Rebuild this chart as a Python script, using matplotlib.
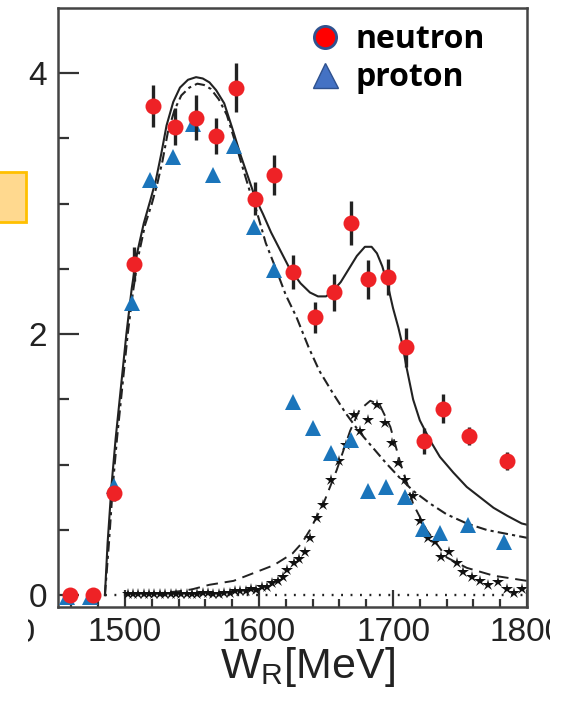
import numpy as np
import matplotlib
matplotlib.use("Agg")
import matplotlib.pyplot as plt
from matplotlib.lines import Line2D
from matplotlib.patches import Rectangle
from matplotlib.transforms import Bbox

plt.rcParams["font.family"] = ["Liberation Sans", "DejaVu Sans"]

# neutron data (red circles) with error bars
neutron_w = [1459, 1476, 1492, 1507, 1521, 1537, 1553, 1568, 1583, 1597, 1611,
             1625, 1642, 1656, 1669, 1681, 1696, 1710, 1723, 1737, 1757, 1785]
neutron_val = [0.0, 0.0, 0.78, 2.54, 3.75, 3.59, 3.66, 3.52, 3.89, 3.04, 3.22,
               2.48, 2.13, 2.32, 2.85, 2.42, 2.44, 1.90, 1.18, 1.43, 1.22, 1.03]
neutron_err = [0.0, 0.0, 0.06, 0.13, 0.16, 0.14, 0.17, 0.14, 0.19, 0.13, 0.15,
               0.13, 0.12, 0.14, 0.17, 0.15, 0.14, 0.15, 0.10, 0.11, 0.07, 0.07]

# proton data (blue triangles)
proton_w = [1457, 1474, 1492, 1505, 1519, 1536, 1551, 1566, 1581, 1596, 1611,
            1625, 1640, 1654, 1669, 1681, 1695, 1709, 1722, 1735, 1756, 1783]
proton_val = [-0.01, -0.01, 0.84, 2.24, 3.18, 3.36, 3.61, 3.22, 3.44, 2.82, 2.49,
              1.48, 1.28, 1.09, 1.19, 0.80, 0.83, 0.75, 0.51, 0.48, 0.54, 0.41]

# full model (solid)
full_w = [1485, 1487, 1490, 1493, 1497, 1501, 1505, 1509, 1514, 1519, 1523,
          1527, 1531, 1536, 1541, 1547, 1553, 1558, 1563, 1568, 1574, 1580,
          1586, 1592, 1597, 1603, 1609, 1616, 1623, 1631, 1638, 1644, 1650,
          1655, 1661, 1667, 1673, 1679, 1684, 1688, 1692, 1696, 1700, 1704,
          1707, 1710, 1715, 1720, 1728, 1735, 1745, 1755, 1765, 1775, 1785,
          1796, 1800]
full_val = [0.0, 0.4, 0.85, 1.2, 1.6, 2.0, 2.35, 2.62, 2.85, 3.03, 3.18,
            3.38, 3.6, 3.78, 3.89, 3.95, 3.97, 3.96, 3.93, 3.87, 3.77, 3.58,
            3.38, 3.2, 3.05, 2.92, 2.78, 2.64, 2.5, 2.39, 2.32, 2.29, 2.29,
            2.33, 2.4, 2.5, 2.6, 2.67, 2.67, 2.62, 2.52, 2.38, 2.2, 2.05,
            1.92, 1.75, 1.5, 1.34, 1.18, 1.06, 0.94, 0.83, 0.75, 0.67, 0.61,
            0.55, 0.54]

# background (dash-dot)
bg_w = [1485, 1488, 1491, 1494, 1498, 1502, 1506, 1510, 1515, 1520, 1524,
        1528, 1532, 1537, 1542, 1548, 1554, 1559, 1564, 1570, 1576, 1582,
        1588, 1593, 1598, 1605, 1613, 1620, 1628, 1637, 1645, 1655, 1665,
        1675, 1685, 1695, 1705, 1715, 1728, 1740, 1755, 1770, 1785, 1800]
bg_val = [0.0, 0.4, 0.85, 1.2, 1.6, 2.0, 2.33, 2.6, 2.84, 3.0, 3.15,
          3.33, 3.55, 3.72, 3.83, 3.89, 3.92, 3.91, 3.88, 3.8, 3.68, 3.48,
          3.27, 3.1, 2.95, 2.7, 2.49, 2.3, 2.13, 1.9, 1.72, 1.55, 1.39,
          1.25, 1.13, 1.01, 0.9, 0.8, 0.7, 0.62, 0.55, 0.5, 0.47, 0.44]

# resonance contribution (dashed)
res_w = [1520, 1540, 1550, 1563, 1581, 1596, 1611, 1625, 1632, 1638, 1648,
         1658, 1668, 1675, 1683, 1690, 1698, 1705, 1715, 1725, 1740, 1755,
         1775, 1800]
res_val = [0.01, 0.03, 0.045, 0.08, 0.11, 0.17, 0.23, 0.32, 0.4, 0.5, 0.7,
           0.96, 1.26, 1.42, 1.49, 1.46, 1.29, 1.03, 0.7, 0.5, 0.29, 0.21,
           0.15, 0.11]

# star points
star_w = [1502, 1506, 1510, 1514, 1518, 1522, 1526, 1530, 1534, 1538, 1542,
          1546, 1550, 1554, 1558, 1562, 1566, 1570, 1574, 1578, 1582, 1586,
          1590, 1594, 1598, 1602, 1606, 1610, 1614, 1618, 1621, 1626, 1630,
          1634, 1638, 1643, 1648, 1654, 1660, 1665, 1671, 1675, 1681, 1688,
          1694, 1699, 1704, 1709, 1715, 1720, 1726, 1731, 1736, 1742, 1748,
          1752, 1759, 1765, 1771, 1778, 1785, 1790, 1796]
star_val = [0.01, 0.01, 0.01, 0.01, 0.01, 0.01, 0.01, 0.01, 0.01, 0.01, 0.01,
            0.01, 0.01, 0.01, 0.02, 0.02, 0.01, 0.01, 0.02, 0.02, 0.03, 0.03,
            0.03, 0.05, 0.04, 0.06, 0.06, 0.09, 0.11, 0.14, 0.19, 0.25, 0.28,
            0.33, 0.44, 0.59, 0.69, 0.88, 1.03, 1.15, 1.38, 1.26, 1.34, 1.46,
            1.32, 1.17, 1.01, 0.88, 0.76, 0.57, 0.44, 0.41, 0.29, 0.33, 0.25,
            0.18, 0.14, 0.11, 0.08, 0.10, 0.05, 0.02, 0.05]

xtick_labels = ["1500", "1600", "1700", "1800"]

fig = plt.figure(figsize=(5.71, 7.08), dpi=100)
ax = fig.add_axes([0.1016, 0.1427, 0.8214, 0.846])

ink = "#222222"
ax.plot([1485, 1800], [0, 0], color=ink, lw=1.7, linestyle=(0, (0.8, 3.2)))
ax.plot(bg_w, bg_val, color=ink, lw=1.5, dashes=(5, 2, 1.5, 2))
ax.plot(res_w, res_val, color=ink, lw=1.4, dashes=(6, 3.5))
ax.plot(full_w, full_val, color=ink, lw=1.5)
ax.plot(star_w, star_val, "*", color="#111111", ms=9, mew=0)

ax.plot(proton_w, proton_val, "^", color="#1B75BB", ms=11, mew=0, zorder=4)
ax.errorbar(neutron_w, neutron_val, yerr=neutron_err, fmt="none",
            ecolor=ink, elinewidth=2.4, capsize=0, zorder=5)
ax.plot(neutron_w, neutron_val, "o", color="#EE2226", ms=11.5, mew=0, zorder=6)

ax.set_xlim(1450, 1800)
ax.set_ylim(-0.09, 4.5)
ax.set_xticks([1500, 1600, 1700, 1800])
ax.set_xticklabels(xtick_labels)
ax.set_xticks(np.arange(1460, 1800, 20), minor=True)
ax.set_yticks([0, 2, 4])
ax.set_yticks([0.5, 1, 1.5, 2.5, 3, 3.5], minor=True)
ax.tick_params(which="both", direction="in", color="#333333", width=1.6,
               labelsize=24, labelcolor="#222222")
ax.tick_params(axis="x", which="major", length=12, pad=7)
ax.tick_params(axis="x", which="minor", length=6)
ax.tick_params(axis="y", which="major", length=15, pad=8)
ax.tick_params(axis="y", which="minor", length=8)
for s in ax.spines.values():
    s.set_linewidth(1.8)
    s.set_color("#444444")

ax.set_xlabel(r"W$\mathregular{_R}$[MeV]", fontsize=31, color="#222222")
ax.xaxis.set_label_coords(0.532, -0.063)

# the slide crop cuts the outer tick labels
t = fig.text(36 / 571, 1 - 633 / 708, "1400", fontsize=24, color="#222222",
             ha="right", va="center")
t.set_clip_box(Bbox([[28, 0], [571, 708]]))
t.set_clip_on(True)
fig.add_artist(Rectangle((550 / 571, 1 - 650 / 708), 21 / 571, 36 / 708,
                         transform=fig.transFigure, facecolor="white",
                         edgecolor="none", zorder=10))

# legend added on the slide
handles = [
    Line2D([], [], marker="o", ls="none", ms=16, mfc="#FF0000",
           mec="#2F528F", mew=2),
    Line2D([], [], marker="^", ls="none", ms=18, mfc="#4472C4",
           mec="#2F528F", mew=1),
]
ax.legend(handles, ["neutron", "proton"], loc="upper left",
          bbox_to_anchor=(0.495, 1.012), frameon=False, handlelength=0.8,
          handletextpad=0.55, labelspacing=0.15, borderpad=0.2,
          prop={"family": "Open Sans", "weight": "bold", "size": 23})

# orange box piece at left edge
fig.patches.append(Rectangle((-0.02, 1 - 222 / 708), 0.065, 50 / 708,
                             transform=fig.transFigure, facecolor="#FFD98F",
                             edgecolor="#FFC000", lw=2, zorder=0))

fig.savefig("out.png", dpi=100)
